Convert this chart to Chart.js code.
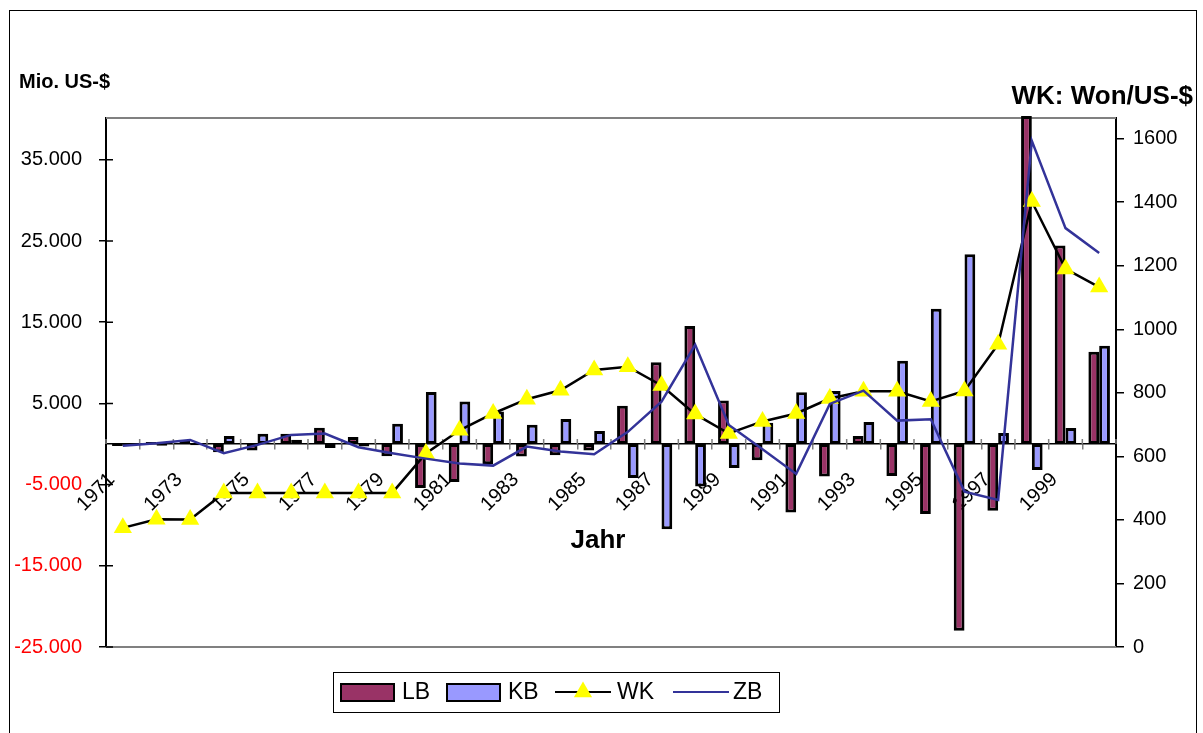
<!DOCTYPE html>
<html lang="de">
<head>
<meta charset="UTF-8">
<title>Leistungsbilanz, Kapitalbilanz und Wechselkurs</title>
<script src="https://cdn.jsdelivr.net/npm/chart.js"></script>
<style>
  body { margin: 0; background: #fff; }
  #wrap { width: 1203px; height: 733px; }
</style>
</head>
<body>
<div id="wrap"><canvas id="bop" width="1203" height="733"></canvas></div>
<script>
const years = ['1971','1972','1973','1974','1975','1976','1977','1978','1979','1980',
               '1981','1982','1983','1984','1985','1986','1987','1988','1989','1990',
               '1991','1992','1993','1994','1995','1996','1997','1998','1999','2000'];

// Mio. US-$
const lb = [-250, 250, 450, -1000, -800, 1250, 2000, 850, -1500, -5430,
            -4680, -2500, -1550, -1370, -800, 4700, 10060, 14540, 5350, -2010,
            -8440, -4010, 1000, -3940, -8620, -23000, -8220, 40400, 24460, 11370];
const kb = [-200, -200, -150, 1000, 1270, 530, -500, -300, 2500, 6400,
            5250, 4000, 2370, 3080, 1600, -4200, -10500, -5230, -2950, 2620,
            6380, 6530, 2720, 10260, 16670, 23360, 1350, -3200, 1970, 12110];
const zb = [-200, 100, 500, -1130, -110, 1120, 1280, -400, -1130, -1800,
            -2400, -2660, -320, -930, -1260, 1500, 5220, 12210, 2350, -650,
            -3680, 4940, 6580, 2880, 3050, -5860, -6890, 37340, 26590, 23510];
// Won/US-$
const wk = [375, 402, 401, 485, 485, 485, 485, 485, 485, 609,
            682, 735, 780, 808, 872, 882, 823, 733, 672, 710,
            735, 782, 805, 805, 773, 806, 953, 1402, 1190, 1133];

const leftTicks = [-25000, -15000, -5000, 5000, 15000, 25000, 35000];
const rightTicks = [0, 200, 400, 600, 800, 1000, 1200, 1400, 1600];

const fontFamily = "'Liberation Sans', Arial, sans-serif";
Chart.defaults.font.family = fontFamily;
Chart.defaults.color = '#000';

function fmtThousands(v) {
  const s = Math.abs(v).toString().replace(/\B(?=(\d{3})+(?!\d))/g, '.');
  return (v < 0 ? '-' : '') + s;
}

// frame, plot borders, cross ticks, headings and the boxed legend
const decor = {
  id: 'decor',
  beforeDatasetsDraw(chart) {
    const { ctx, chartArea: a, scales } = chart;
    ctx.save();
    ctx.strokeStyle = '#808080';
    ctx.lineWidth = 2;
    ctx.beginPath();
    ctx.moveTo(a.left, a.top); ctx.lineTo(a.right, a.top);
    ctx.moveTo(a.left, a.bottom); ctx.lineTo(a.right, a.bottom);
    ctx.stroke();

    // inner half of the left axis ticks
    ctx.strokeStyle = '#000';
    ctx.lineWidth = 1.5;
    ctx.beginPath();
    scales.y.ticks.forEach(t => {
      const py = scales.y.getPixelForValue(t.value);
      ctx.moveTo(a.left, py); ctx.lineTo(a.left + 7, py);
    });
    ctx.stroke();

    // upper half of the category ticks on the zero line
    const x = scales.x;
    const step = x.getPixelForValue(1) - x.getPixelForValue(0);
    const zero = scales.y.getPixelForValue(0);
    ctx.strokeStyle = '#808080';
    ctx.beginPath();
    for (let i = 0; i <= years.length; i++) {
      const px = x.getPixelForValue(0) - step / 2 + i * step;
      ctx.moveTo(px, zero); ctx.lineTo(px, zero - 5);
    }
    ctx.stroke();
    ctx.restore();
  },
  afterDraw(chart) {
    const { ctx } = chart;
    const ds = chart.data.datasets;
    ctx.save();
    ctx.strokeStyle = '#000';
    ctx.lineWidth = 1;
    ctx.strokeRect(9.5, 10.5, 1187, 740);

    ctx.fillStyle = '#000';
    ctx.textBaseline = 'middle';
    ctx.font = 'bold 20px ' + fontFamily;
    ctx.textAlign = 'left';
    ctx.fillText('Mio. US-$', 19, 82);
    ctx.font = 'bold 26px ' + fontFamily;
    ctx.textAlign = 'right';
    ctx.fillText('WK: Won/US-$', 1193, 97);
    ctx.textAlign = 'center';
    ctx.fillText('Jahr', 598, 541);

    // legend
    const cy = 692;
    ctx.strokeRect(333.5, 672.5, 446, 40);
    ctx.font = '23px ' + fontFamily;
    ctx.textAlign = 'left';
    [[0, 341, 402], [1, 447, 508]].forEach(([i, sx, tx]) => {
      ctx.fillStyle = ds[i].backgroundColor;
      ctx.fillRect(sx, cy - 8, 53, 17);
      ctx.lineWidth = 2;
      ctx.strokeStyle = '#000';
      ctx.strokeRect(sx, cy - 8, 53, 17);
      ctx.fillStyle = '#000';
      ctx.fillText(ds[i].label, tx, cy + 1);
    });
    [[2, 555, 617], [3, 673, 733]].forEach(([i, sx, tx]) => {
      ctx.strokeStyle = ds[i].borderColor;
      ctx.lineWidth = 2;
      ctx.beginPath();
      ctx.moveTo(sx, cy); ctx.lineTo(sx + 56, cy);
      ctx.stroke();
      if (ds[i].pointRadius > 0) {
        const r = ds[i].pointRadius, mx = sx + 28;
        ctx.fillStyle = ds[i].pointBackgroundColor;
        ctx.beginPath();
        ctx.moveTo(mx, cy - r);
        ctx.lineTo(mx + r * 0.866, cy + r / 2);
        ctx.lineTo(mx - r * 0.866, cy + r / 2);
        ctx.closePath();
        ctx.fill();
      }
      ctx.fillStyle = '#000';
      ctx.fillText(ds[i].label, tx, cy + 1);
    });
    ctx.restore();
  }
};

new Chart(document.getElementById('bop'), {
  type: 'bar',
  data: {
    labels: years,
    datasets: [
      { type: 'bar', label: 'LB', data: lb, yAxisID: 'y', order: 2, clip: false,
        backgroundColor: '#993366', borderColor: '#000', borderWidth: 3, borderSkipped: false,
        categoryPercentage: 0.64, barPercentage: 1 },
      { type: 'bar', label: 'KB', data: kb, yAxisID: 'y', order: 3,
        backgroundColor: '#9999FF', borderColor: '#000', borderWidth: 3, borderSkipped: false,
        categoryPercentage: 0.64, barPercentage: 1 },
      { type: 'line', label: 'WK', data: wk, yAxisID: 'y1', order: 1,
        borderColor: '#000', borderWidth: 2.5, tension: 0,
        pointStyle: 'triangle', pointRadius: 10.5, pointBackgroundColor: '#FFFF00', pointBorderWidth: 0 },
      { type: 'line', label: 'ZB', data: zb, yAxisID: 'y', order: 0,
        borderColor: '#333399', borderWidth: 2.5, tension: 0, pointRadius: 0 }
    ]
  },
  options: {
    responsive: false,
    animation: false,
    devicePixelRatio: 1,
    events: [],
    layout: { padding: { top: 118, bottom: 86, left: 0, right: 0 } },
    plugins: { legend: { display: false }, tooltip: { enabled: false } },
    scales: {
      x: {
        type: 'category',
        position: { y: 0 },
        offset: true,
        grid: { drawOnChartArea: false, offset: true, color: '#808080', lineWidth: 1.5, tickLength: 5 },
        border: { display: true, color: '#000', width: 1.5 },
        ticks: {
          autoSkip: false, minRotation: 45, maxRotation: 45, padding: 19, labelOffset: -11,
          font: { size: 20 }, color: '#000',
          callback: function (val, i) { return i % 2 === 0 ? this.getLabelForValue(val) : ''; }
        },
        afterFit(scale) { scale.height = 0; }
      },
      y: {
        position: 'left', min: -25000, max: 40150,
        grid: { drawOnChartArea: false, color: '#000', lineWidth: 1.5, tickLength: 7 },
        border: { color: '#000', width: 2 },
        ticks: {
          padding: 17, font: { size: 20 },
          color: c => (c.tick && c.tick.value < 0 ? '#FF0000' : '#000'),
          callback: v => fmtThousands(v)
        },
        afterBuildTicks(scale) { scale.ticks = leftTicks.map(v => ({ value: v })); },
        afterFit(scale) { scale.width = 106; }
      },
      y1: {
        position: 'right', min: 0, max: 1665,
        grid: { drawOnChartArea: false, color: '#000', lineWidth: 1.5, tickLength: 8 },
        border: { color: '#000', width: 2 },
        ticks: { padding: 9, font: { size: 20 }, color: '#000', callback: v => String(v) },
        afterBuildTicks(scale) { scale.ticks = rightTicks.map(v => ({ value: v })); },
        afterFit(scale) { scale.width = 87; }
      }
    }
  },
  plugins: [decor]
});
</script>
</body>
</html>
